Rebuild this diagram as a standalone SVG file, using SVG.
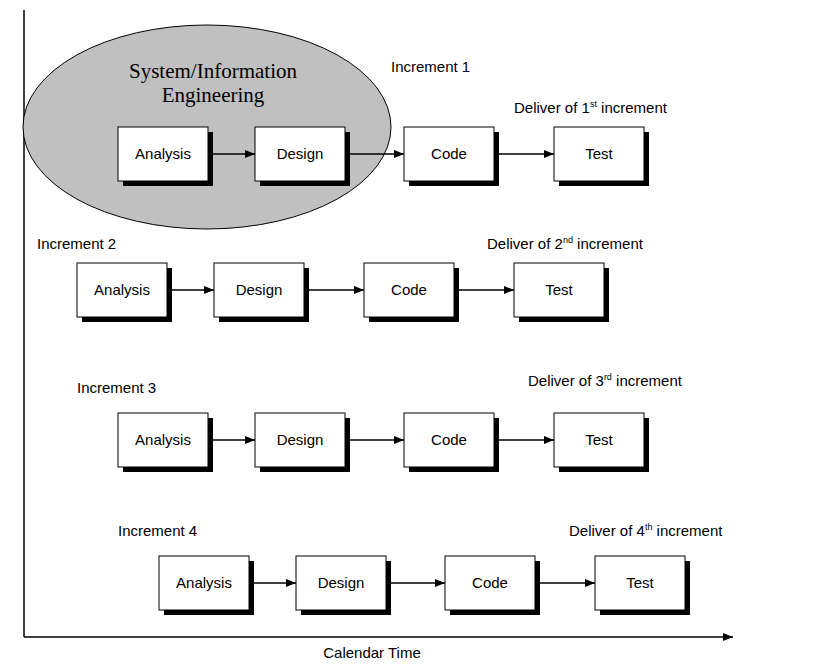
<svg xmlns="http://www.w3.org/2000/svg" width="820" height="664" viewBox="0 0 820 664">
<defs>
<style>
.sh{fill:#000}
.bx{fill:#fff;stroke:#000;stroke-width:1}
.t{font-family:"Liberation Sans",Arial,sans-serif;font-size:15px;fill:#000}
.c{text-anchor:middle}
.ln{stroke:#000;stroke-width:1.3;fill:none}
</style>
<marker id="a" markerWidth="10" markerHeight="8" refX="10" refY="4" orient="auto" markerUnits="userSpaceOnUse"><path d="M0,0L10,4L0,8z" fill="#000"/></marker>
<g id="box"><rect class="sh" x="5" y="5" width="90" height="54"/><rect class="bx" x="0" y="0" width="90" height="54"/></g>
</defs>
<rect width="820" height="664" fill="#fff"/>
<g id="axes">
<line x1="24" y1="10" x2="24" y2="637" stroke="#000" stroke-width="1.5"/>
<line x1="24" y1="637" x2="733" y2="637" stroke="#000" stroke-width="1.5" marker-end="url(#a)"/>
<text class="t c" x="372" y="658">Calendar Time</text>
</g>
<g id="ellipse">
<ellipse cx="207" cy="127" rx="184" ry="102" fill="#c0c0c0" stroke="#000" stroke-width="1"/>
<text x="213" y="78" text-anchor="middle" font-family="'Liberation Serif',serif" font-size="21">System/Information</text>
<text x="213" y="102" text-anchor="middle" font-family="'Liberation Serif',serif" font-size="21">Engineering</text>
</g>
<g id="labels" class="t">
<text x="391" y="72">Increment 1</text>
<text x="514" y="113">Deliver of 1<tspan font-size="9" dy="-6">st</tspan><tspan dy="6"> increment</tspan></text>
<text x="37" y="249">Increment 2</text>
<text x="487" y="249">Deliver of 2<tspan font-size="9" dy="-6">nd</tspan><tspan dy="6"> increment</tspan></text>
<text x="77" y="393">Increment 3</text>
<text x="528" y="386">Deliver of 3<tspan font-size="9" dy="-6">rd</tspan><tspan dy="6"> increment</tspan></text>
<text x="118" y="536">Increment 4</text>
<text x="569" y="536">Deliver of 4<tspan font-size="9" dy="-6">th</tspan><tspan dy="6"> increment</tspan></text>
</g>
<g id="connectors">
<line class="ln" x1="208" y1="154" x2="255" y2="154" marker-end="url(#a)"/>
<line class="ln" x1="345" y1="154" x2="404" y2="154" marker-end="url(#a)"/>
<line class="ln" x1="494" y1="154" x2="554" y2="154" marker-end="url(#a)"/>
<line class="ln" x1="167" y1="290" x2="214" y2="290" marker-end="url(#a)"/>
<line class="ln" x1="304" y1="290" x2="364" y2="290" marker-end="url(#a)"/>
<line class="ln" x1="454" y1="290" x2="514" y2="290" marker-end="url(#a)"/>
<line class="ln" x1="208" y1="440" x2="255" y2="440" marker-end="url(#a)"/>
<line class="ln" x1="345" y1="440" x2="404" y2="440" marker-end="url(#a)"/>
<line class="ln" x1="494" y1="440" x2="554" y2="440" marker-end="url(#a)"/>
<line class="ln" x1="249" y1="583" x2="296" y2="583" marker-end="url(#a)"/>
<line class="ln" x1="386" y1="583" x2="445" y2="583" marker-end="url(#a)"/>
<line class="ln" x1="535" y1="583" x2="595" y2="583" marker-end="url(#a)"/>
</g>
<g id="r1a"><use href="#box" x="118" y="127"/><text class="t c" x="163" y="159">Analysis</text></g>
<g id="r1d"><use href="#box" x="255" y="127"/><text class="t c" x="300" y="159">Design</text></g>
<g id="r1c"><use href="#box" x="404" y="127"/><text class="t c" x="449" y="159">Code</text></g>
<g id="r1t"><use href="#box" x="554" y="127"/><text class="t c" x="599" y="159">Test</text></g>
<g id="r2a"><use href="#box" x="77" y="263"/><text class="t c" x="122" y="295">Analysis</text></g>
<g id="r2d"><use href="#box" x="214" y="263"/><text class="t c" x="259" y="295">Design</text></g>
<g id="r2c"><use href="#box" x="364" y="263"/><text class="t c" x="409" y="295">Code</text></g>
<g id="r2t"><use href="#box" x="514" y="263"/><text class="t c" x="559" y="295">Test</text></g>
<g id="r3a"><use href="#box" x="118" y="413"/><text class="t c" x="163" y="445">Analysis</text></g>
<g id="r3d"><use href="#box" x="255" y="413"/><text class="t c" x="300" y="445">Design</text></g>
<g id="r3c"><use href="#box" x="404" y="413"/><text class="t c" x="449" y="445">Code</text></g>
<g id="r3t"><use href="#box" x="554" y="413"/><text class="t c" x="599" y="445">Test</text></g>
<g id="r4a"><use href="#box" x="159" y="556"/><text class="t c" x="204" y="588">Analysis</text></g>
<g id="r4d"><use href="#box" x="296" y="556"/><text class="t c" x="341" y="588">Design</text></g>
<g id="r4c"><use href="#box" x="445" y="556"/><text class="t c" x="490" y="588">Code</text></g>
<g id="r4t"><use href="#box" x="595" y="556"/><text class="t c" x="640" y="588">Test</text></g>
</svg>
